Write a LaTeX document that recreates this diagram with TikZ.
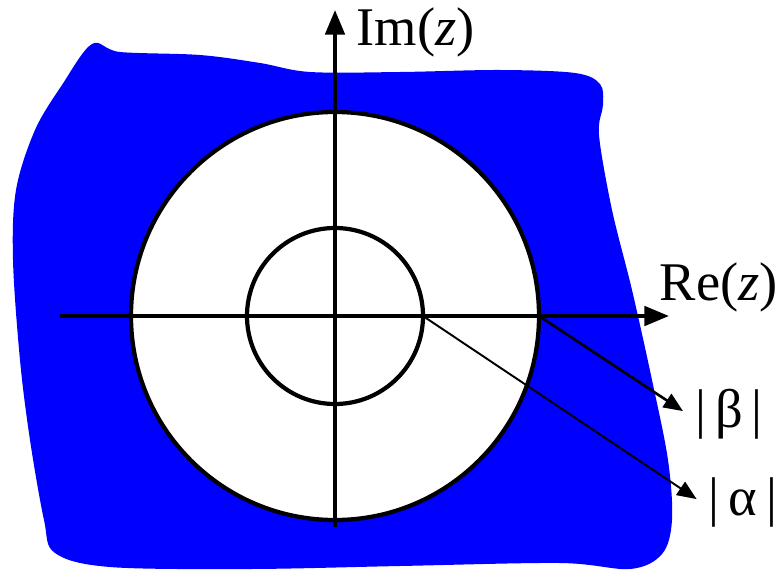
\documentclass[tikz,border=0pt]{standalone}
\usepackage{fontspec}
\setmainfont{Liberation Serif}
\usetikzlibrary{arrows.meta}
\definecolor{planeblue}{HTML}{0000FF}

\begin{document}
\begin{tikzpicture}[
    x=0.02cm, y=-0.02cm,
    line width=2.2pt,
    font=\fontsize{31}{34}\selectfont,
    axis/.style={-{Triangle[length=14pt, width=11pt]}, line width=2.2pt},
    ring/.style={draw=black, fill=white, line width=2.4pt},
    pointer/.style={-{Triangle[length=11pt, width=9pt]}, line width=1.1pt, shorten >=3pt}
]
    \useasboundingbox (0,0) rectangle (780,571);

    % the blue region of the plane
    \fill[planeblue] plot[smooth cycle, tension=0.55] coordinates {
        (92,44) (120,52) (200,55) (260,63) (310,72) (400,72) (500,70)
        (575,73) (600,84) (603,105) (599,135) (612,210) (632,290)
        (652,380) (668,460) (672,520) (662,554) (630,569) (560,563)
        (400,566) (250,569) (110,567) (55,553) (44,520) (30,440)
        (20,360) (13,260) (16,190) (35,130) (62,85)};

    % circles
    \coordinate (o) at (335,316);
    \draw[ring] (o) circle[radius=204];
    \draw[ring] (o) circle[radius=88];
    \coordinate (rb) at (539,316);
    \coordinate (ra) at (423,316);

    % axes
    \coordinate (xl) at (60,316);
    \coordinate (xr) at (669,316);
    \coordinate (yb) at (335,527);
    \coordinate (yt) at (335,10);
    \draw[axis] (xl) -- (xr);
    \draw[axis] (yb) -- (yt);
    \node[anchor=west] (re) at (652,287) {Re(\textit{z})};
    \node[anchor=west] (im) at (349,32) {Im(\textit{z})};

    % radii
    \node (beta) at (729,414) {|\,β\,|};
    \node (alpha) at (743,502) {|\,α\,|};
    \draw[pointer, line width=1.5pt] (rb) -- (beta.west);
    \draw[pointer] (ra) -- (alpha.west);

\end{tikzpicture}
\end{document}
